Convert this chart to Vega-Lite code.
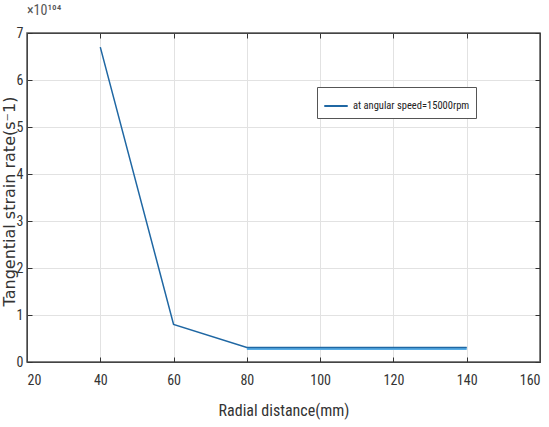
{
  "$schema": "https://vega.github.io/schema/vega-lite/v6.json",
  "width": 513,
  "height": 329,
  "autosize": {"type": "none"},
  "padding": {"left": 27, "top": 33, "right": 9, "bottom": 65},
  "background": "white",
  "title": {"text": "×10¹⁰⁴", "anchor": "start", "frame": "group", "font": "'Roboto Condensed', 'DejaVu Sans Condensed'", "fontSize": 14, "fontWeight": "normal", "color": "#555", "offset": 8},
  "config": {
    "view": {"stroke": "#555", "strokeWidth": 1.5},
    "axis": {
      "labelFont": "'Roboto Condensed', 'DejaVu Sans Condensed'",
      "labelFontSize": 14,
      "labelColor": "#333",
      "titleFont": "'Roboto Condensed', 'DejaVu Sans Condensed'",
      "titleFontWeight": "normal",
      "titleColor": "#333",
      "domainColor": "#444",
      "tickColor": "#333",
      "tickSize": -5,
      "gridColor": "#e2e2e2",
      "gridWidth": 1
    }
  },
  "datasets": {
    "main": [
      {"r": 40, "rate": 6.7, "series": "at angular speed=15000rpm"},
      {"r": 60, "rate": 0.8, "series": "at angular speed=15000rpm"},
      {"r": 80, "rate": 0.31, "series": "at angular speed=15000rpm"},
      {"r": 100, "rate": 0.31, "series": "at angular speed=15000rpm"},
      {"r": 120, "rate": 0.31, "series": "at angular speed=15000rpm"},
      {"r": 140, "rate": 0.31, "series": "at angular speed=15000rpm"}
    ],
    "shadow": [
      {"r": 80, "rate": 0.285},
      {"r": 140, "rate": 0.285}
    ]
  },
  "layer": [
    {
      "data": {"name": "shadow"},
      "mark": {"type": "line", "color": "#5aaee6", "strokeWidth": 3},
      "encoding": {
        "x": {"field": "r", "type": "quantitative", "scale": {"domain": [20, 160], "nice": false}, "axis": {"orient": "bottom", "values": [20, 40, 60, 80, 100, 120, 140, 160], "title": "Radial distance(mm)", "titleFontSize": 16, "labelPadding": 16, "titleY": 48, "titleBaseline": "middle", "grid": true}},
        "y": {"field": "rate", "type": "quantitative", "scale": {"domain": [0, 7], "nice": false}, "axis": {"orient": "left", "values": [0, 1, 2, 3, 4, 5, 6, 7], "title": "Tangential strain rate(s⁻1)", "titleFont": "DejaVu Sans", "titleFontSize": 16, "titleX": -18, "titleY": 168, "titleAngle": 270, "titleAlign": "center", "titleBaseline": "middle", "labelPadding": 9, "grid": true}}
      }
    },
    {
      "data": {"name": "main"},
      "mark": {"type": "line", "strokeWidth": 1.5},
      "encoding": {
        "x": {"field": "r", "type": "quantitative", "axis": {"orient": "top", "values": [20, 40, 60, 80, 100, 120, 140, 160], "labels": false, "title": null, "grid": false}},
        "y": {"field": "rate", "type": "quantitative", "axis": {"orient": "right", "values": [0, 1, 2, 3, 4, 5, 6, 7], "labels": false, "title": null, "grid": false}},
        "color": {"field": "series", "type": "nominal", "scale": {"range": ["#1f67a3"]}, "legend": {"orient": "none", "legendX": 290, "legendY": 54, "title": null, "symbolType": "stroke", "symbolSize": 550, "symbolStrokeWidth": 2, "labelFont": "'Roboto Condensed', 'Liberation Sans Narrow', Roboto", "labelFontSize": 10.5, "labelColor": "#222", "strokeColor": "#555", "fillColor": "white", "padding": 6}}
      }
    }
  ],
  "resolve": {"axis": {"x": "independent", "y": "independent"}}
}
